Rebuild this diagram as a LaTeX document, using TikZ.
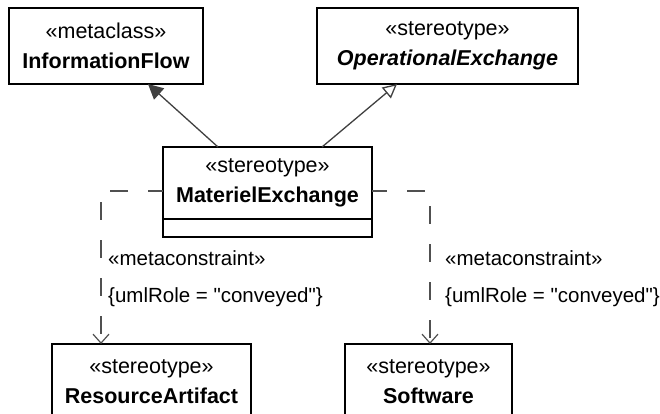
\documentclass[tikz,border=0pt]{standalone}
\usepackage{fontspec}
\setmainfont{Liberation Sans}[Ligatures=TeXOff]
\usetikzlibrary{arrows.meta,calc}
\definecolor{linegray}{RGB}{64,64,64}
\definecolor{dashgray}{RGB}{80,80,80}
\begin{document}
\begin{tikzpicture}[
    x=1pt,y=-1pt,
    umlbox/.style={
        rectangle,
        draw=black,
        line width=1.4pt,
        fill=white,
        anchor=north west,
        align=center,
        inner sep=0pt,
        outer sep=0pt,
        font=\fontsize{21.5}{30}\selectfont
    },
    gen/.style={line width=1.3pt,draw=linegray},
    genfilled/.style={gen,-{Triangle[length=15pt,width=15pt,fill=linegray]}},
    genopen/.style={gen,-{Triangle[open,length=14pt,width=14pt,fill=white]}},
    depend/.style={
        line width=1.2pt,draw=dashgray,
        dash pattern=on 18pt off 20pt,dash phase=3pt,
        -{Straight Barb[length=9pt,width=16pt]}
    },
    lbl/.style={anchor=west,inner sep=0pt,font=\fontsize{20.5}{24}\selectfont}
]

\useasboundingbox (0,0) rectangle (660,413);
\clip (0,0) rectangle (660,413);

\node[umlbox,minimum width=194pt,minimum height=76pt] (infoflow) at (9,8)
    {«metaclass»\\\textbf{InformationFlow}};
\node[umlbox,minimum width=261pt,minimum height=76pt] (opex) at (317,8)
    {«stereotype»\\\textbf{\itshape OperationalExchange}};

\node[umlbox,minimum width=209pt,minimum height=72pt] (matex) at (163,147)
    {«stereotype»\\\textbf{MaterielExchange}};
\node[umlbox,minimum width=209pt,minimum height=18pt] (matexops) at (matex.south west) {};

\node[umlbox,minimum width=199pt,minimum height=76pt] (resart) at (52,344)
    {«stereotype»\\\textbf{ResourceArtifact}};
\node[umlbox,minimum width=167pt,minimum height=76pt] (software) at (345,344)
    {«stereotype»\\\textbf{Software}};

\draw[genfilled] ($(matex.north west)+(55,0)$) -- ($(infoflow.south west)+(139,0)$);
\draw[genopen] ($(matex.north west)+(159,0)$) -- ($(opex.south west)+(80,0)$);

\draw[depend] ($(matex.west)+(0,8)$) -| ($(resart.north west)+(49,0)$);
\draw[depend] ($(matex.east)+(0,8)$) -| ($(software.north west)+(85,0)$);

\node[lbl] (mcleft) at (108,258) {«metaconstraint»};
\node[lbl] (roleleft) at (108,297) {\{umlRole = "conveyed"\}};
\node[lbl] (mcright) at (445,258) {«metaconstraint»};
\node[lbl] (roleright) at (445,297) {\{umlRole = "conveyed"\}};

\end{tikzpicture}
\end{document}
